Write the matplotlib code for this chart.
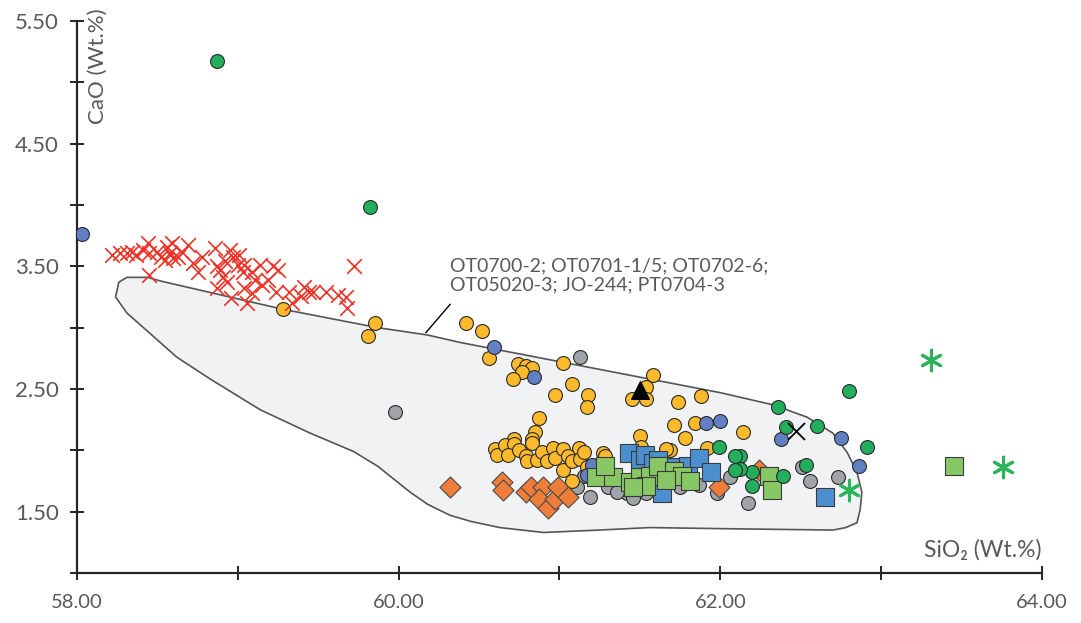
import matplotlib
matplotlib.use("Agg")
import matplotlib.pyplot as plt
from matplotlib.patches import Polygon
from matplotlib.ticker import FixedLocator, FormatStrFormatter

plt.rcParams["font.family"] = ["Lato", "DejaVu Sans"]

# ---- 数据（SiO2, CaO, Wt.%）----
field_x = [58.24, 58.26, 58.31, 58.44, 58.52, 59.28, 59.87, 60.18, 60.38, 61.13, 62.00,
           62.33, 62.54, 62.70, 62.79, 62.85, 62.88, 62.87, 62.85, 62.78, 62.70, 62.08,
           61.56, 61.25, 60.90, 60.63, 60.45, 60.32, 60.18, 60.07, 59.87, 59.72, 59.45,
           59.14, 58.83, 58.62, 58.31]
field_y = [3.25, 3.37, 3.41, 3.41, 3.38, 3.15, 3.00, 2.94, 2.88, 2.69, 2.47,
           2.37, 2.27, 2.14, 1.98, 1.82, 1.66, 1.52, 1.41, 1.37, 1.35, 1.36,
           1.37, 1.35, 1.33, 1.37, 1.42, 1.47, 1.56, 1.66, 1.87, 1.99, 2.14,
           2.33, 2.58, 2.76, 3.12]

red_x = [58.22, 58.27, 58.31, 58.34, 58.37, 58.41, 58.44, 58.45, 58.50, 58.52, 58.56,
         58.58, 58.60, 58.63, 58.65, 58.59, 58.45, 58.72, 58.75, 58.78, 58.86, 58.87,
         58.89, 58.91, 58.95, 58.97, 59.00, 59.03, 59.04, 58.87, 58.93, 58.96, 59.04,
         59.06, 59.09, 59.09, 59.14, 59.15, 59.22, 59.25, 59.24, 59.32, 59.34, 59.41,
         59.44, 59.47, 59.55, 59.67, 59.68, 59.72, 58.69, 58.55, 59.01, 58.92, 59.11,
         59.19, 59.39, 59.62]
red_y = [3.59, 3.61, 3.61, 3.62, 3.59, 3.63, 3.69, 3.61, 3.62, 3.58, 3.66,
         3.61, 3.57, 3.58, 3.62, 3.69, 3.43, 3.53, 3.45, 3.58, 3.65, 3.50,
         3.47, 3.41, 3.63, 3.58, 3.51, 3.45, 3.51, 3.32, 3.37, 3.24, 3.32,
         3.20, 3.28, 3.45, 3.51, 3.35, 3.50, 3.47, 3.29, 3.29, 3.20, 3.33,
         3.29, 3.29, 3.29, 3.25, 3.16, 3.50, 3.67, 3.55, 3.59, 3.54, 3.39,
         3.39, 3.26, 3.27]

gray_x = [61.13, 59.98, 61.15, 61.19, 61.11, 61.30, 61.42, 61.46, 61.54, 61.63, 61.75,
          61.98, 62.06, 62.17, 62.51, 62.56, 62.73, 61.87, 61.36]
gray_y = [2.76, 2.31, 1.79, 1.62, 1.70, 1.70, 1.65, 1.61, 1.65, 1.68, 1.70,
          1.65, 1.78, 1.57, 1.86, 1.75, 1.78, 1.72, 1.66]

yellow_x = [59.28, 59.85, 59.81, 60.42, 60.52, 60.56, 60.74, 60.79, 60.83, 60.77, 60.71,
            61.02, 61.08, 60.97, 61.18, 61.17, 61.58, 61.54, 61.45, 61.54, 61.74, 61.88,
            61.71, 61.84, 62.14, 61.78, 61.50, 61.51, 60.87, 60.85, 60.72, 60.83, 60.60,
            60.61, 60.66, 60.72, 60.68, 60.75, 60.79, 60.83, 60.80, 60.86, 60.89, 60.92,
            60.96, 60.97, 61.02, 61.02, 61.05, 61.08, 61.12, 61.13, 61.15, 61.17, 61.08,
            61.27, 61.28, 61.69, 61.66, 61.92, 61.24]
yellow_y = [3.15, 3.04, 2.93, 3.04, 2.97, 2.75, 2.70, 2.69, 2.67, 2.64, 2.58,
            2.71, 2.54, 2.45, 2.45, 2.35, 2.61, 2.52, 2.42, 2.42, 2.39, 2.44,
            2.21, 2.22, 2.15, 2.10, 2.12, 2.03, 2.26, 2.15, 2.09, 2.09, 2.01,
            1.96, 2.04, 2.05, 1.96, 2.00, 1.95, 2.06, 1.91, 1.92, 1.99, 1.91,
            2.02, 1.94, 2.01, 1.84, 1.95, 1.91, 2.02, 1.93, 1.99, 1.86, 1.75,
            1.98, 1.95, 2.00, 2.01, 2.02, 1.88]

bluec_x = [58.03, 60.59, 60.84, 61.91, 62.00, 62.38, 62.75, 62.86, 61.20, 61.17]
bluec_y = [3.76, 2.84, 2.60, 2.22, 2.24, 2.09, 2.10, 1.87, 1.88, 1.80]

orange_x = [60.32, 60.64, 60.65, 60.79, 60.82, 60.90, 60.87, 60.93, 60.97, 60.99, 61.05,
            61.99, 62.24]
orange_y = [1.70, 1.74, 1.68, 1.66, 1.70, 1.70, 1.60, 1.53, 1.60, 1.70, 1.62,
            1.70, 1.84]

blues_x = [61.43, 61.50, 61.53, 61.58, 61.61, 61.72, 61.80, 61.87, 61.94, 61.64, 62.65]
blues_y = [1.98, 1.92, 1.96, 1.90, 1.92, 1.86, 1.87, 1.94, 1.82, 1.65, 1.62]

greens_x = [61.23, 61.33, 61.28, 61.44, 61.50, 61.56, 61.61, 61.54, 61.46, 61.71, 61.76,
            61.81, 61.66, 62.30, 62.32, 63.45]
greens_y = [1.78, 1.78, 1.87, 1.74, 1.78, 1.79, 1.87, 1.71, 1.70, 1.83, 1.79,
            1.75, 1.76, 1.79, 1.68, 1.87]

greenc_x = [58.87, 59.82, 62.36, 62.41, 62.60, 62.80, 62.91, 62.53, 62.20, 62.20, 62.12,
            62.12, 61.99, 62.09, 62.09, 62.39]
greenc_y = [5.17, 3.98, 2.35, 2.19, 2.20, 2.48, 2.03, 1.88, 1.82, 1.71, 1.95,
            1.85, 2.03, 1.95, 1.84, 1.79]

tri_x, tri_y = [61.50], [2.49]
blackx_x, blackx_y = [62.47], [2.16]
star_x = [63.31, 63.76, 62.80]
star_y = [2.74, 1.86, 1.68]

label_text = "OT0700-2; OT0701-1/5; OT0702-6;\nOT05020-3; JO-244; PT0704-3"
leader_x = [60.17, 60.32]
leader_y = [2.96, 3.19]

# ---- 绘图 ----
fig = plt.figure(figsize=(10.81, 6.23), dpi=100)
ax = fig.add_axes([0.0712, 0.0803, 0.8927, 0.886])

ax.add_patch(Polygon(list(zip(field_x, field_y)), closed=True, facecolor="#F1F2F4",
                     edgecolor="#555555", lw=1.2, joinstyle="round", zorder=1))

ec = "#2A2A2A"
ax.scatter(gray_x, gray_y, s=100, c="#A0A3A7", edgecolors=ec, linewidths=0.8, zorder=3)
ax.scatter(yellow_x, yellow_y, s=100, c="#FDB92C", edgecolors=ec, linewidths=0.8, zorder=4)
ax.scatter(bluec_x, bluec_y, s=100, c="#6180C3", edgecolors=ec, linewidths=0.8, zorder=4)
ax.scatter(orange_x, orange_y, marker="D", s=115, c="#EF7D3A", edgecolors="#4A4A4A",
           linewidths=0.8, zorder=5)
ax.scatter(blues_x, blues_y, marker="s", s=185, c="#4B8FCE", edgecolors="#3A3A3A",
           linewidths=0.8, zorder=6)
ax.scatter(greens_x, greens_y, marker="s", s=185, c="#88C765", edgecolors="#3A3A3A",
           linewidths=0.8, zorder=7)
ax.scatter(greenc_x, greenc_y, s=100, c="#22AE5C", edgecolors=ec, linewidths=0.8, zorder=8)
ax.scatter(red_x, red_y, marker="x", s=110, c="#EE3124", linewidths=1.2, zorder=8)
ax.scatter(tri_x, tri_y, marker="^", s=160, c="black", zorder=9)
ax.scatter(blackx_x, blackx_y, marker="x", s=150, c="black", linewidths=1.3, zorder=9)
ax.scatter(star_x, star_y, marker=(6, 2, 0), s=220, c="#2BB45C", linewidths=2.2, zorder=9)

ax.plot(leader_x, leader_y, color="black", lw=1.0, zorder=9)
ax.text(60.32, 3.57, label_text, fontsize=14, color="#595959", va="top", ha="left",
        linespacing=1.15, zorder=10)

ax.set_xlim(58, 64)
ax.set_ylim(1.0, 5.5)
ax.xaxis.set_major_locator(FixedLocator([58, 60, 62, 64]))
ax.xaxis.set_minor_locator(FixedLocator([59, 61, 63]))
ax.yaxis.set_major_locator(FixedLocator([1.5, 2.5, 3.5, 4.5, 5.5]))
ax.yaxis.set_minor_locator(FixedLocator([1.0, 2.0, 3.0, 4.0, 5.0]))
ax.xaxis.set_major_formatter(FormatStrFormatter("%.2f"))
ax.yaxis.set_major_formatter(FormatStrFormatter("%.2f"))

for s in ["top", "right"]:
    ax.spines[s].set_visible(False)
for s in ["left", "bottom"]:
    ax.spines[s].set_color("#262626")
    ax.spines[s].set_linewidth(1.6)
ax.tick_params(which="both", direction="inout", length=10, width=1.4, color="#262626",
               labelcolor="#595959")
ax.tick_params(axis="x", labelsize=14.5, pad=10)
ax.tick_params(axis="y", labelsize=16, pad=8)
ax.set_facecolor("white")

ax.text(0.022, 0.918, "CaO (Wt.%)", transform=ax.transAxes, rotation=90, fontsize=16,
        color="#595959", ha="center", va="center")
ax.text(1.0, 0.042, "SiO₂ (Wt.%)", transform=ax.transAxes, fontsize=16.5,
        color="#595959", ha="right", va="center")

fig.savefig("out.png", dpi=100)
